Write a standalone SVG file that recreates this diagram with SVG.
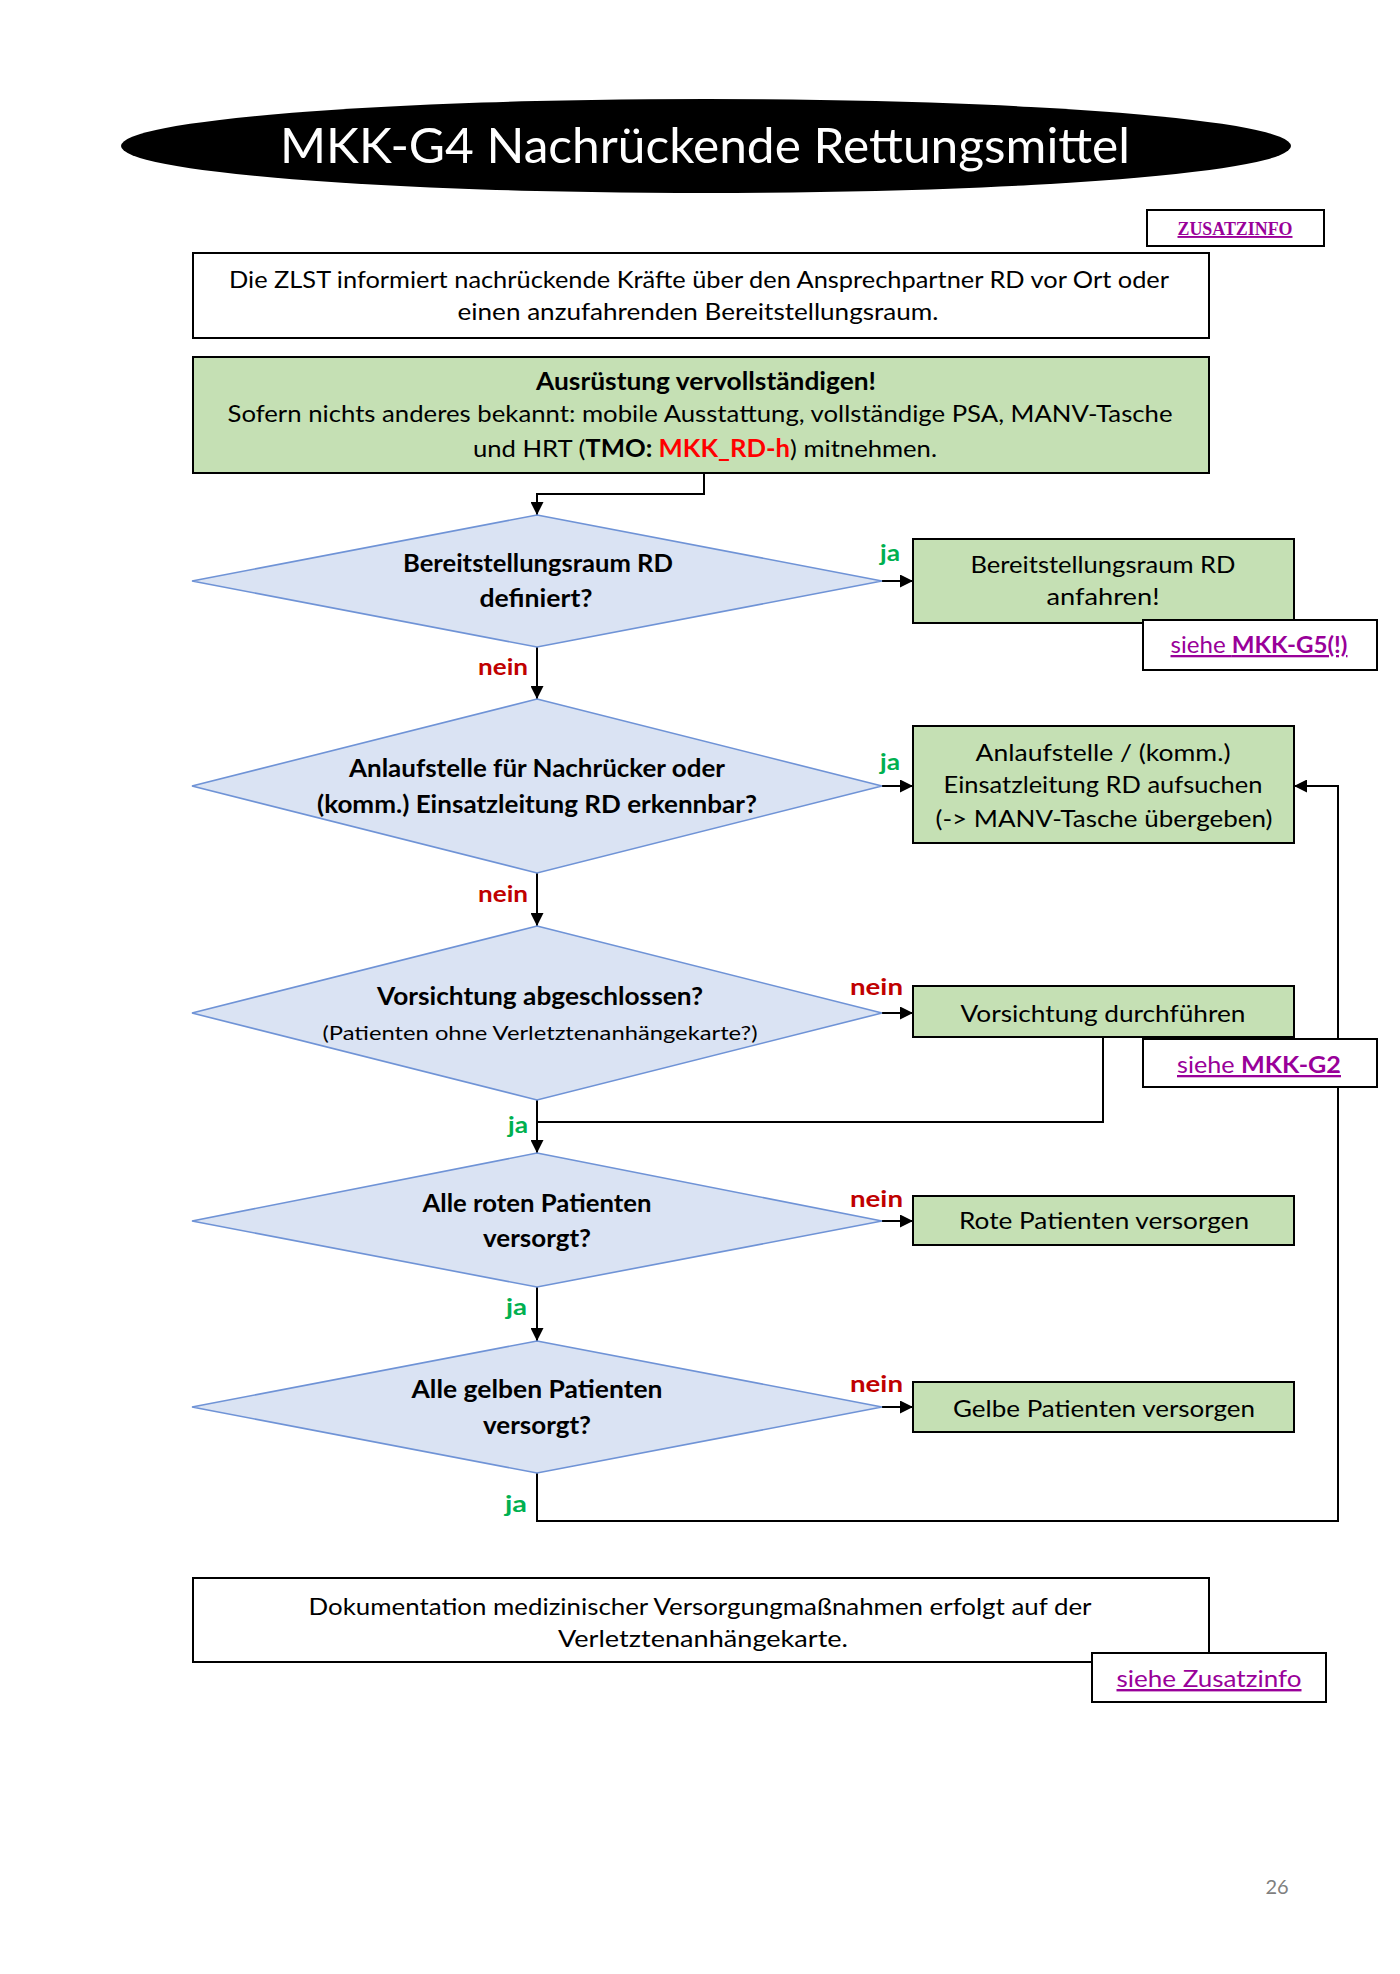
<svg xmlns="http://www.w3.org/2000/svg" width="1400" height="1974" viewBox="0 0 1400 1974">
<defs>
<marker id="arr" viewBox="0 0 10 10" refX="10" refY="5" markerWidth="13" markerHeight="13" markerUnits="userSpaceOnUse" orient="auto">
<path d="M0,0 L10,5 L0,10 z" fill="#000"/>
</marker>
</defs>
<style>
text{font-family:Lato,"Open Sans","Liberation Sans",sans-serif;fill:#000;}
.t{font-size:24px;text-anchor:middle;}
.b{font-weight:bold;}
.sm{font-size:20px;text-anchor:middle;}
.box{fill:#fff;stroke:#000;stroke-width:2;}
.gbox{fill:#C5E0B4;stroke:#000;stroke-width:2;}
.dia{fill:#DAE3F3;stroke:#6F93D6;stroke-width:1.6;}
.ja{fill:#00B050;font-weight:bold;font-size:23px;}
.nein{fill:#C00000;font-weight:bold;font-size:23px;}
.link{fill:#990099;text-decoration:underline;font-size:23px;text-anchor:middle;}
.con{fill:none;stroke:#000;stroke-width:2;}
</style>
<rect width="1400" height="1974" fill="#fff"/>

<g id="title">
<ellipse cx="706" cy="146" rx="585" ry="47" fill="#000"/>
<text x="705" y="163" style="fill:#fff;font-size:48px;text-anchor:middle" textLength="850" lengthAdjust="spacingAndGlyphs">MKK-G4 Nachrückende Rettungsmittel</text>
</g>

<g id="connectors">
<polyline class="con" points="704,473 704,494 537,494 537,515" marker-end="url(#arr)"/>
<line class="con" x1="882" y1="581" x2="913" y2="581" marker-end="url(#arr)"/>
<line class="con" x1="537" y1="647" x2="537" y2="699" marker-end="url(#arr)"/>
<line class="con" x1="882" y1="786" x2="913" y2="786" marker-end="url(#arr)"/>
<line class="con" x1="537" y1="873" x2="537" y2="926" marker-end="url(#arr)"/>
<line class="con" x1="882" y1="1013" x2="913" y2="1013" marker-end="url(#arr)"/>
<line class="con" x1="537" y1="1100" x2="537" y2="1153" marker-end="url(#arr)"/>
<polyline class="con" points="1103,1037 1103,1122 537,1122"/>
<line class="con" x1="882" y1="1221" x2="913" y2="1221" marker-end="url(#arr)"/>
<line class="con" x1="537" y1="1287" x2="537" y2="1341" marker-end="url(#arr)"/>
<line class="con" x1="882" y1="1407" x2="913" y2="1407" marker-end="url(#arr)"/>
<polyline class="con" points="537,1473 537,1521 1338,1521 1338,786 1294,786" marker-end="url(#arr)"/>
</g>

<g id="zusatzinfo-top">
<rect class="box" x="1147" y="210" width="177" height="36"/>
<text x="1235" y="235" style="font-family:'Liberation Serif',serif;font-weight:bold;font-size:19px;fill:#990099;text-decoration:underline;text-anchor:middle" textLength="115" lengthAdjust="spacingAndGlyphs">ZUSATZINFO</text>
</g>

<g id="info-zlst">
<rect class="box" x="193" y="253" width="1016" height="85"/>
<text class="t" x="699" y="288" textLength="940" lengthAdjust="spacingAndGlyphs">Die ZLST informiert nachrückende Kräfte über den Ansprechpartner RD vor Ort oder</text>
<text class="t" x="698" y="320" textLength="481" lengthAdjust="spacingAndGlyphs">einen anzufahrenden Bereitstellungsraum.</text>
</g>

<g id="ausruestung">
<rect class="gbox" x="193" y="357" width="1016" height="116"/>
<text class="t b" x="706" y="390" textLength="340" lengthAdjust="spacingAndGlyphs">Ausrüstung vervollständigen!</text>
<text class="t" x="700" y="422" textLength="945" lengthAdjust="spacingAndGlyphs">Sofern nichts anderes bekannt: mobile Ausstattung, vollständige PSA, MANV-Tasche</text>
<text class="t" x="705" y="457" textLength="464" lengthAdjust="spacingAndGlyphs">und HRT (<tspan class="b">TMO: </tspan><tspan class="b" style="fill:#FF0000">MKK_RD-h</tspan>) mitnehmen.</text>
</g>

<g id="d1">
<polygon class="dia" points="537,515 882,581 537,647 192,581"/>
<text class="t b" x="538" y="572" textLength="270" lengthAdjust="spacingAndGlyphs">Bereitstellungsraum RD</text>
<text class="t b" x="536" y="607" textLength="113" lengthAdjust="spacingAndGlyphs">definiert?</text>
</g>

<g id="r1">
<rect class="gbox" x="913" y="539" width="381" height="84"/>
<text class="t" x="1103" y="573" textLength="265" lengthAdjust="spacingAndGlyphs">Bereitstellungsraum RD</text>
<text class="t" x="1103" y="605" textLength="113" lengthAdjust="spacingAndGlyphs">anfahren!</text>
</g>

<g id="link-g5">
<rect class="box" x="1143" y="620" width="234" height="50"/>
<text class="link" x="1259" y="653" textLength="177" lengthAdjust="spacingAndGlyphs">siehe <tspan class="b">MKK-G5(!)</tspan></text>
</g>

<g id="d2">
<polygon class="dia" points="537,699 882,786 537,873 192,786"/>
<text class="t b" x="537" y="777" textLength="376" lengthAdjust="spacingAndGlyphs">Anlaufstelle für Nachrücker oder</text>
<text class="t b" x="537" y="813" textLength="440" lengthAdjust="spacingAndGlyphs">(komm.) Einsatzleitung RD erkennbar?</text>
</g>

<g id="r2">
<rect class="gbox" x="913" y="726" width="381" height="117"/>
<text class="t" x="1103" y="761" textLength="255" lengthAdjust="spacingAndGlyphs">Anlaufstelle / (komm.)</text>
<text class="t" x="1103" y="793" textLength="319" lengthAdjust="spacingAndGlyphs">Einsatzleitung RD aufsuchen</text>
<text class="t" x="1104" y="827" textLength="337" lengthAdjust="spacingAndGlyphs">(-&gt; MANV-Tasche übergeben)</text>
</g>

<g id="d3">
<polygon class="dia" points="537,926 882,1013 537,1100 192,1013"/>
<text class="t b" x="540" y="1005" textLength="326" lengthAdjust="spacingAndGlyphs">Vorsichtung abgeschlossen?</text>
<text class="sm" x="540" y="1040" textLength="435" lengthAdjust="spacingAndGlyphs">(Patienten ohne Verletztenanhängekarte?)</text>
</g>

<g id="r3">
<rect class="gbox" x="913" y="986" width="381" height="51"/>
<text class="t" x="1103" y="1022" textLength="285" lengthAdjust="spacingAndGlyphs">Vorsichtung durchführen</text>
</g>

<g id="link-g2">
<rect class="box" x="1143" y="1039" width="234" height="48"/>
<text class="link" x="1259" y="1073" textLength="164" lengthAdjust="spacingAndGlyphs">siehe <tspan class="b">MKK-G2</tspan></text>
</g>

<g id="d4">
<polygon class="dia" points="537,1153 882,1221 537,1287 192,1221"/>
<text class="t b" x="537" y="1212" textLength="229" lengthAdjust="spacingAndGlyphs">Alle roten Patienten</text>
<text class="t b" x="537" y="1247" textLength="108" lengthAdjust="spacingAndGlyphs">versorgt?</text>
</g>

<g id="r4">
<rect class="gbox" x="913" y="1196" width="381" height="49"/>
<text class="t" x="1104" y="1229" textLength="290" lengthAdjust="spacingAndGlyphs">Rote Patienten versorgen</text>
</g>

<g id="d5">
<polygon class="dia" points="537,1341 882,1407 537,1473 192,1407"/>
<text class="t b" x="537" y="1398" textLength="251" lengthAdjust="spacingAndGlyphs">Alle gelben Patienten</text>
<text class="t b" x="537" y="1434" textLength="108" lengthAdjust="spacingAndGlyphs">versorgt?</text>
</g>

<g id="r5">
<rect class="gbox" x="913" y="1382" width="381" height="50"/>
<text class="t" x="1104" y="1417" textLength="302" lengthAdjust="spacingAndGlyphs">Gelbe Patienten versorgen</text>
</g>

<g id="labels">
<text class="ja" x="880" y="561" textLength="20" lengthAdjust="spacingAndGlyphs">ja</text>
<text class="ja" x="880" y="770" textLength="20" lengthAdjust="spacingAndGlyphs">ja</text>
<text class="nein" x="478" y="675" textLength="50" lengthAdjust="spacingAndGlyphs">nein</text>
<text class="nein" x="478" y="902" textLength="50" lengthAdjust="spacingAndGlyphs">nein</text>
<text class="nein" x="850" y="995" textLength="53" lengthAdjust="spacingAndGlyphs">nein</text>
<text class="ja" x="508" y="1133" textLength="20" lengthAdjust="spacingAndGlyphs">ja</text>
<text class="nein" x="850" y="1207" textLength="53" lengthAdjust="spacingAndGlyphs">nein</text>
<text class="ja" x="506" y="1315" textLength="21" lengthAdjust="spacingAndGlyphs">ja</text>
<text class="nein" x="850" y="1392" textLength="53" lengthAdjust="spacingAndGlyphs">nein</text>
<text class="ja" x="505" y="1512" textLength="22" lengthAdjust="spacingAndGlyphs">ja</text>
</g>

<g id="dokumentation">
<rect class="box" x="193" y="1578" width="1016" height="84"/>
<text class="t" x="700" y="1615" textLength="783" lengthAdjust="spacingAndGlyphs">Dokumentation medizinischer Versorgungmaßnahmen erfolgt auf der</text>
<text class="t" x="703" y="1647" textLength="290" lengthAdjust="spacingAndGlyphs">Verletztenanhängekarte.</text>
</g>

<g id="link-zusatzinfo">
<rect class="box" x="1092" y="1653" width="234" height="49"/>
<text class="link" x="1209" y="1687" style="font-size:24px" textLength="185" lengthAdjust="spacingAndGlyphs">siehe Zusatzinfo</text>
</g>

<text x="1277" y="1894" style="font-size:20px;fill:#7F7F7F;text-anchor:middle">26</text>
</svg>
